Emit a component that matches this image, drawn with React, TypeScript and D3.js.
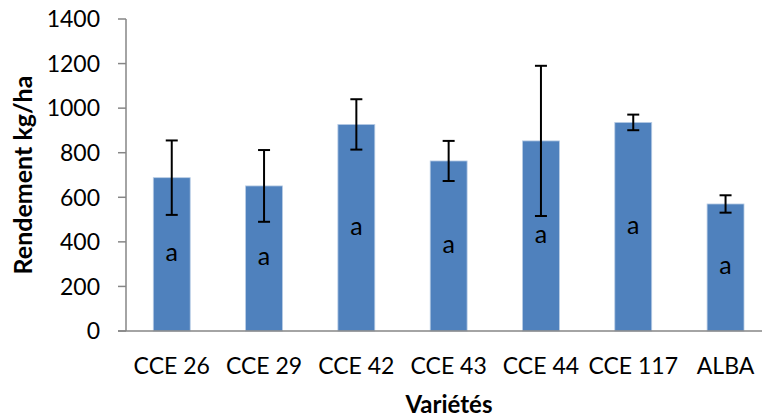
import React from "react";
import * as d3 from "d3";

const categories = ["CCE 26", "CCE 29", "CCE 42", "CCE 43", "CCE 44", "CCE 117", "ALBA"];
const values = [688, 651, 927, 763, 853, 936, 570];
const errors = [167, 161, 113, 90, 337, 35, 39];
const letters = ["a", "a", "a", "a", "a", "a", "a"];
const yTicks = [0, 200, 400, 600, 800, 1000, 1200, 1400];

const W = 762;
const H = 420;
const FONT = "Lato, 'Open Sans', sans-serif";

export default function App() {
  const x = d3.scaleBand<string>().domain(categories).range([125.6, 771.7]).paddingInner(0.6).paddingOuter(0.3);
  const y = d3.scaleLinear().domain([0, 1400]).range([331, 19]);
  const axisColor = "#868686";
  const bw = x.bandwidth();
  const cap = 6;

  return (
    <svg width={W} height={H} style={{ position: "absolute", left: 0, top: 0, background: "#fff" }} fontFamily={FONT}>
      <rect x={0} y={0} width={W} height={H} fill="#fff" />
      {/* y axis */}
      <line x1={126} x2={126} y1={y(1400)} y2={y(0)} stroke={axisColor} strokeWidth={1.5} />
      {yTicks.map((t) => (
        <g key={t}>
          <line x1={118} x2={126} y1={y(t)} y2={y(t)} stroke={axisColor} strokeWidth={1.5} />
          <text x={100} y={y(t)} dy="0.36em" textAnchor="end" fontSize={23} fill="#000">
            {t}
          </text>
        </g>
      ))}
      {/* bars */}
      {categories.map((c, i) => {
        const x0 = x(c)!;
        const cx = x0 + bw / 2;
        const v = values[i];
        const e = errors[i];
        return (
          <g key={c}>
            <rect x={x0} y={y(v)} width={bw} height={y(0) - y(v)} fill="#4F81BD" stroke="#B9CDE5" strokeWidth={0.8} />
            <text x={cx} y={y(v / 2)} dy="0.28em" textAnchor="middle" fontSize={25} fill="#000">
              {letters[i]}
            </text>
            <line x1={cx} x2={cx} y1={y(v + e)} y2={y(v - e)} stroke="#000" strokeWidth={2} />
            <line x1={cx - cap} x2={cx + cap} y1={y(v + e)} y2={y(v + e)} stroke="#000" strokeWidth={2} />
            <line x1={cx - cap} x2={cx + cap} y1={y(v - e)} y2={y(v - e)} stroke="#000" strokeWidth={2} />
          </g>
        );
      })}
      {/* x axis */}
      <line x1={118} x2={W} y1={y(0)} y2={y(0)} stroke={axisColor} strokeWidth={1.5} />
      {categories.map((c) => (
        <text key={c} x={x(c)! + bw / 2} y={374} textAnchor="middle" fontSize={23} fill="#000">
          {c}
        </text>
      ))}
      <text x={449} y={413} textAnchor="middle" fontSize={24} fontWeight="bold" fill="#000">
        Variétés
      </text>
      <text
        transform={`translate(32, ${(y(0) + y(1400)) / 2}) rotate(-90)`}
        textAnchor="middle"
        fontSize={25}
        fontWeight="bold"
        fill="#000"
      >
        Rendement kg/ha
      </text>
    </svg>
  );
}
